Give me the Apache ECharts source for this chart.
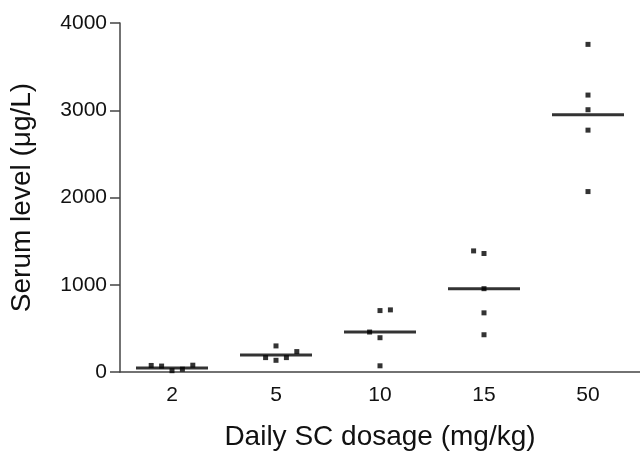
<!DOCTYPE html>
<html>
<head>
<meta charset="utf-8">
<script src="https://cdn.jsdelivr.net/npm/echarts@6/dist/echarts.min.js"></script>
<style>
html,body{margin:0;padding:0;background:#fff;}
#c{width:640px;height:456px;}
</style>
</head>
<body>
<div id="c"></div>
<script>
// Categories (daily SC dosage, mg/kg)
var categories = ['2', '5', '10', '15', '50'];
// Individual serum levels (µg/L) per group, and their horizontal jitter (category units)
var group2  = [75, 68, 15, 32, 78];
var group5  = [165, 299, 134, 165, 234];
var group10 = [704, 712, 458, 393, 71];
var group15 = [1388, 1358, 955, 678, 427];
var group50 = [3755, 3174, 3006, 2772, 2068];
var jitter2  = [-0.2, -0.1, 0, 0.1, 0.2];
var jitter5  = [-0.1, 0, 0, 0.1, 0.2];
var jitter10 = [0, 0.1, -0.1, 0, 0];
var jitter15 = [-0.1, 0, 0, 0, 0];
var jitter50 = [0, 0, 0, 0, 0];
// Group mean lines (µg/L)
var means = [45, 196, 458, 955, 2949];
// Y tick labels
var yTicks = [0, 1000, 2000, 3000, 4000];

var groups = [group2, group5, group10, group15, group50];
var jitters = [jitter2, jitter5, jitter10, jitter15, jitter50];
var pts = [];
groups.forEach(function (g, i) {
  g.forEach(function (v, j) { pts.push([i + jitters[i][j], v]); });
});
var meanPts = means.map(function (m, i) { return [i, m]; });

var font = 'Liberation Sans, Arial, sans-serif';
var chart = echarts.init(document.getElementById('c'));
chart.setOption({
  animation: false,
  grid: { left: 120, right: -3, top: 23, bottom: 81.5 },
  xAxis: [{
    type: 'category',
    data: categories,
    boundaryGap: true,
    name: 'Daily SC dosage (mg/kg)',
    nameLocation: 'middle',
    nameGap: 51,
    nameTextStyle: { fontFamily: font, fontSize: 28, color: '#111' },
    axisLine: { lineStyle: { color: '#444', width: 1.5 } },
    axisTick: { alignWithLabel: true, length: 8, lineStyle: { color: '#444', width: 1.5 } },
    axisLabel: { fontFamily: font, fontSize: 21, color: '#111', margin: 13 },
    splitLine: { show: false }
  }, {
    type: 'value',
    min: -0.5, max: 4.5,
    show: false
  }],
  yAxis: {
    type: 'value',
    min: yTicks[0], max: yTicks[yTicks.length - 1], interval: 1000,
    name: 'Serum level (μg/L)',
    nameLocation: 'middle',
    nameGap: 84,
    nameTextStyle: { fontFamily: font, fontSize: 28, color: '#111' },
    axisLine: { show: true, onZero: false, lineStyle: { color: '#444', width: 1.5 } },
    axisTick: { show: true, length: 10, lineStyle: { color: '#444', width: 1.5 } },
    axisLabel: { fontFamily: font, fontSize: 21, color: '#111', margin: 13,
      formatter: function (v) { return String(v); } },
    splitLine: { show: false }
  },
  series: [{
    type: 'scatter',
    xAxisIndex: 1,
    data: pts,
    symbol: 'rect',
    symbolSize: 5,
    itemStyle: { color: '#000' }
  }, {
    type: 'scatter',
    xAxisIndex: 1,
    data: meanPts,
    symbol: 'rect',
    symbolSize: [72, 3],
    itemStyle: { color: '#000' }
  }]
});
</script>
</body>
</html>
